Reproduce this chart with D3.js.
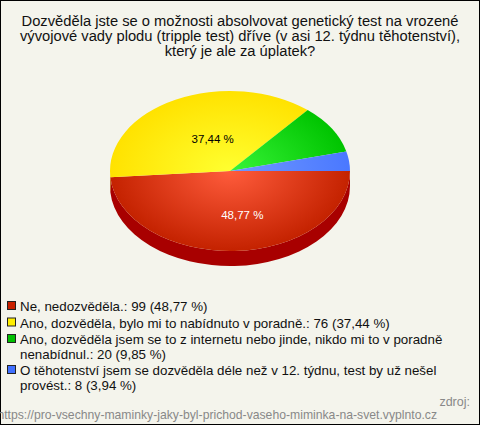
<!DOCTYPE html>
<html><head><meta charset="utf-8">
<script src="https://cdn.jsdelivr.net/npm/d3@7"></script>
<style>body{margin:0;background:#fff}svg{display:block;font-family:"Liberation Sans",Arial,sans-serif}</style>
</head><body><svg id="c" width="480" height="425"></svg>
<script>
const titleLines = ["Dozvěděla jste se o možnosti absolvovat genetický test na vrozené","vývojové vady plodu (tripple test) dříve (v asi 12. týdnu těhotenství),","který je ale za úplatek?"];
const categories = ["Ne, nedozvěděla.","Ano, dozvěděla, bylo mi to nabídnuto v poradně.","Ano, dozvěděla jsem se to z internetu nebo jinde, nikdo mi to v poradně nenabídnul.","O těhotenství jsem se dozvěděla déle než v 12. týdnu, test by už nešel provést."];
const legendLines = [["Ne, nedozvěděla.: 99 (48,77 %)"],["Ano, dozvěděla, bylo mi to nabídnuto v poradně.: 76 (37,44 %)"],["Ano, dozvěděla jsem se to z internetu nebo jinde, nikdo mi to v poradně","nenabídnul.: 20 (9,85 %)"],["O těhotenství jsem se dozvěděla déle než v 12. týdnu, test by už nešel","provést.: 8 (3,94 %)"]];
const values = [99, 76, 20, 8];
const percentLabels = ["48,77 %","37,44 %","9,85 %","3,94 %"];
const colorsLight = ["#ff5c3c","#ffff30","#38f438","#7098ff"];
const colorsDark = ["#c42200","#ffe200","#00c400","#4a78ff"];
const colorsSide = ["#a80000","#c8b000","#009000","#2040c0"];
const legendColors = ["#c82000","#ffee00","#00c000","#4070ff"];
const labelColors = ["#ffffff","#000000","#000000","#ffffff"];
const sourceLabel = "zdroj:";
const sourceUrl = "https://pro-vsechny-maminky-jaky-byl-prichod-vaseho-miminka-na-svet.vyplnto.cz";

const svg = d3.select("#c");
svg.append("rect").attr("x",0.5).attr("y",0.5).attr("width",479).attr("height",424)
  .attr("fill","#f4f4ec").attr("stroke","#000");

function fitSize(text, base, target){
  const t = svg.append("text").attr("font-size",base).text(text);
  const w = t.node().getComputedTextLength(); t.remove();
  return base*target/w;
}
const titleSize = fitSize(titleLines[0], 14, 437);
const legendSize = fitSize(legendLines[2][0], 13, 423);
const urlSize = fitSize(sourceUrl, 12, 440);

svg.append("g").selectAll("text").data(titleLines).join("text")
  .attr("x",240).attr("y",(d,i)=>26+i*15).attr("text-anchor","middle")
  .attr("font-size",titleSize).attr("fill","#111").text(d=>d);

const cx=230, cy=171, rx=120, ry=80, depth=15;
const defs = svg.append("defs");
values.forEach((v,i)=>{
  const g = defs.append("radialGradient").attr("id","g"+i).attr("gradientUnits","userSpaceOnUse")
    .attr("cx",cx).attr("cy",cy).attr("r",rx).attr("fx",cx).attr("fy",cy)
    .attr("gradientTransform",`translate(0,${cy}) scale(1,${ry/rx}) translate(0,${-cy})`);
  g.append("stop").attr("offset","0%").attr("stop-color",colorsLight[i]);
  g.append("stop").attr("offset","100%").attr("stop-color",colorsDark[i]);
});

const pie = d3.pie().sort(null).startAngle(Math.PI/2).endAngle(Math.PI/2+2*Math.PI);
const arcs = pie(values);
const px = a => cx + rx*Math.sin(a);
const py = (a,dy=0) => cy - ry*Math.cos(a) + dy;

const sideG = svg.append("g");
arcs.forEach((d,i)=>{
  const a0 = Math.max(d.startAngle, Math.PI/2), a1 = Math.min(d.endAngle, 3*Math.PI/2);
  if (a1 <= a0) return;
  const large = (a1-a0) > Math.PI ? 1 : 0;
  const p = `M${px(a0)},${py(a0)} A${rx},${ry} 0 ${large} 1 ${px(a1)},${py(a1)} L${px(a1)},${py(a1,depth)} A${rx},${ry} 0 ${large} 0 ${px(a0)},${py(a0,depth)} Z`;
  sideG.append("path").attr("d",p).attr("fill",colorsSide[i]);
});
const topG = svg.append("g");
arcs.forEach((d,i)=>{
  const a0=d.startAngle, a1=d.endAngle;
  const large = (a1-a0) > Math.PI ? 1 : 0;
  const p = `M${cx},${cy} L${px(a0)},${py(a0)} A${rx},${ry} 0 ${large} 1 ${px(a1)},${py(a1)} Z`;
  topG.append("path").attr("d",p).attr("fill",`url(#g${i})`);
});
arcs.forEach((d,i)=>{
  if (d.value/d3.sum(values) < 0.1) return;
  const m=(d.startAngle+d.endAngle)/2;
  svg.append("text").attr("x",cx+0.5*rx*Math.sin(m)+10).attr("y",cy-0.5*ry*Math.cos(m)+8)
    .attr("text-anchor","middle").attr("font-size",11.5).attr("fill",labelColors[i]).text(percentLabels[i]);
});

let ly = 306;
const lg = svg.append("g");
legendLines.forEach((lines,i)=>{
  lg.append("rect").attr("x",7.5).attr("y",ly-4.5).attr("width",8).attr("height",8)
    .attr("fill",legendColors[i]).attr("stroke","#222");
  lines.forEach((t,j)=>{
    lg.append("text").attr("x",20).attr("y",ly+5+j*14.5).attr("font-size",legendSize).attr("fill","#111").text(t);
  });
  ly += lines.length*14.5 + 2;
});

svg.append("text").attr("x",470).attr("y",406).attr("text-anchor","end").attr("font-size",12.5).attr("fill","#888").text(sourceLabel);
svg.append("text").attr("x",437).attr("y",419).attr("text-anchor","end").attr("font-size",urlSize).attr("fill","#888").text(sourceUrl);
</script></body></html>
